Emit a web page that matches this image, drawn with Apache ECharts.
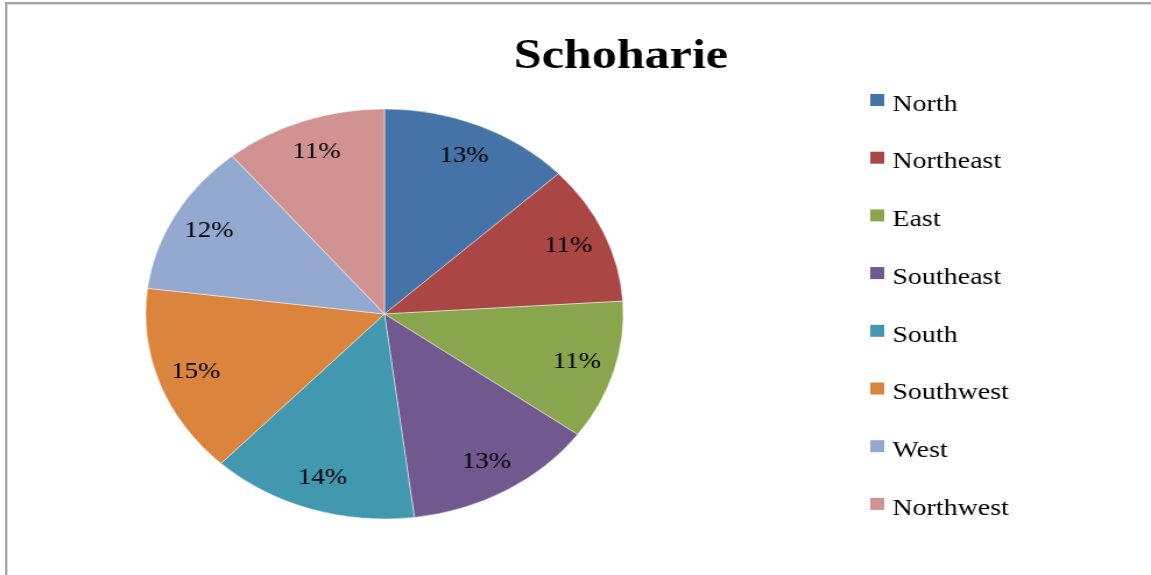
<!DOCTYPE html>
<html>
<head>
<meta charset="utf-8">
<script src="https://cdn.jsdelivr.net/npm/echarts@6/dist/echarts.min.js"></script>
<style>
  html, body { margin: 0; padding: 0; background: #fff; overflow: hidden; }
  #frame {
    position: absolute; left: 5px; top: 2px; width: 1200px; height: 620px;
    border-top: 2px solid #a4a4a4; border-left: 2px solid #a4a4a4;
    box-shadow: inset 1px 1px 0 #dcdcdc;
  }
  /* the reference picture is stretched horizontally, so the whole chart is too */
  #chart {
    position: absolute; left: 0; top: 0; width: 988px; height: 575px;
    transform: scaleX(1.165); transform-origin: 0 0;
  }
</style>
</head>
<body>
<div id="frame"></div>
<div id="chart"></div>
<script>
const title = "Schoharie";
const directions = ["North", "Northeast", "East", "Southeast", "South", "Southwest", "West", "Northwest"];
const shares = [13, 11, 11, 13, 14, 15, 12, 11];
const colors = ["#4572A7", "#AA4643", "#89A54E", "#71588F", "#4198AF", "#DB843D", "#93A9CF", "#D19392"];

const serif = "'Liberation Serif', 'Times New Roman', serif";
const pieData = directions.map((name, i) => ({ name, value: shares[i] }));

// square sitting at the top of a taller box, so the legend text lands a bit below it
const legendIcon = "path://M0,0H12V12H0Z M0,21L0,21";

const chart = echarts.init(document.getElementById("chart"));

chart.setOption({
  animation: false,
  color: colors,
  title: {
    text: title,
    left: 436,
    top: 30,
    textStyle: { fontFamily: serif, fontSize: 43, fontWeight: "bold", color: "#000" },
  },
  legend: {
    orient: "vertical",
    left: 742,
    top: 87.5,
    itemWidth: 12,
    itemHeight: 21,
    itemGap: 33.7,
    icon: legendIcon,
    selectedMode: false,
    data: directions,
    itemStyle: { borderWidth: 0 },
    textStyle: {
      fontFamily: serif,
      fontSize: 24,
      lineHeight: 24,
      color: "#000",
      padding: [0, 0, 0, 2],
    },
  },
  series: [
    {
      type: "pie",
      center: [330, 314],
      radius: [0, 205],
      startAngle: 90,
      clockwise: true,
      silent: true,
      data: pieData,
      label: { show: false },
      labelLine: { show: false },
      itemStyle: { borderColor: "rgba(255,255,255,0.45)", borderWidth: 1 },
    },
    {
      // transparent ring used only to place the percentage labels further out
      type: "pie",
      center: [330, 314],
      radius: [133, 205],
      startAngle: 90,
      clockwise: true,
      silent: true,
      data: pieData,
      itemStyle: { color: "rgba(0,0,0,0)" },
      labelLine: { show: false },
      label: {
        show: true,
        position: "inside",
        formatter: "{d}%",
        fontFamily: serif,
        fontSize: 23,
        color: "#000",
      },
    },
  ],
});

window.addEventListener("resize", () => chart.resize());
</script>
</body>
</html>
